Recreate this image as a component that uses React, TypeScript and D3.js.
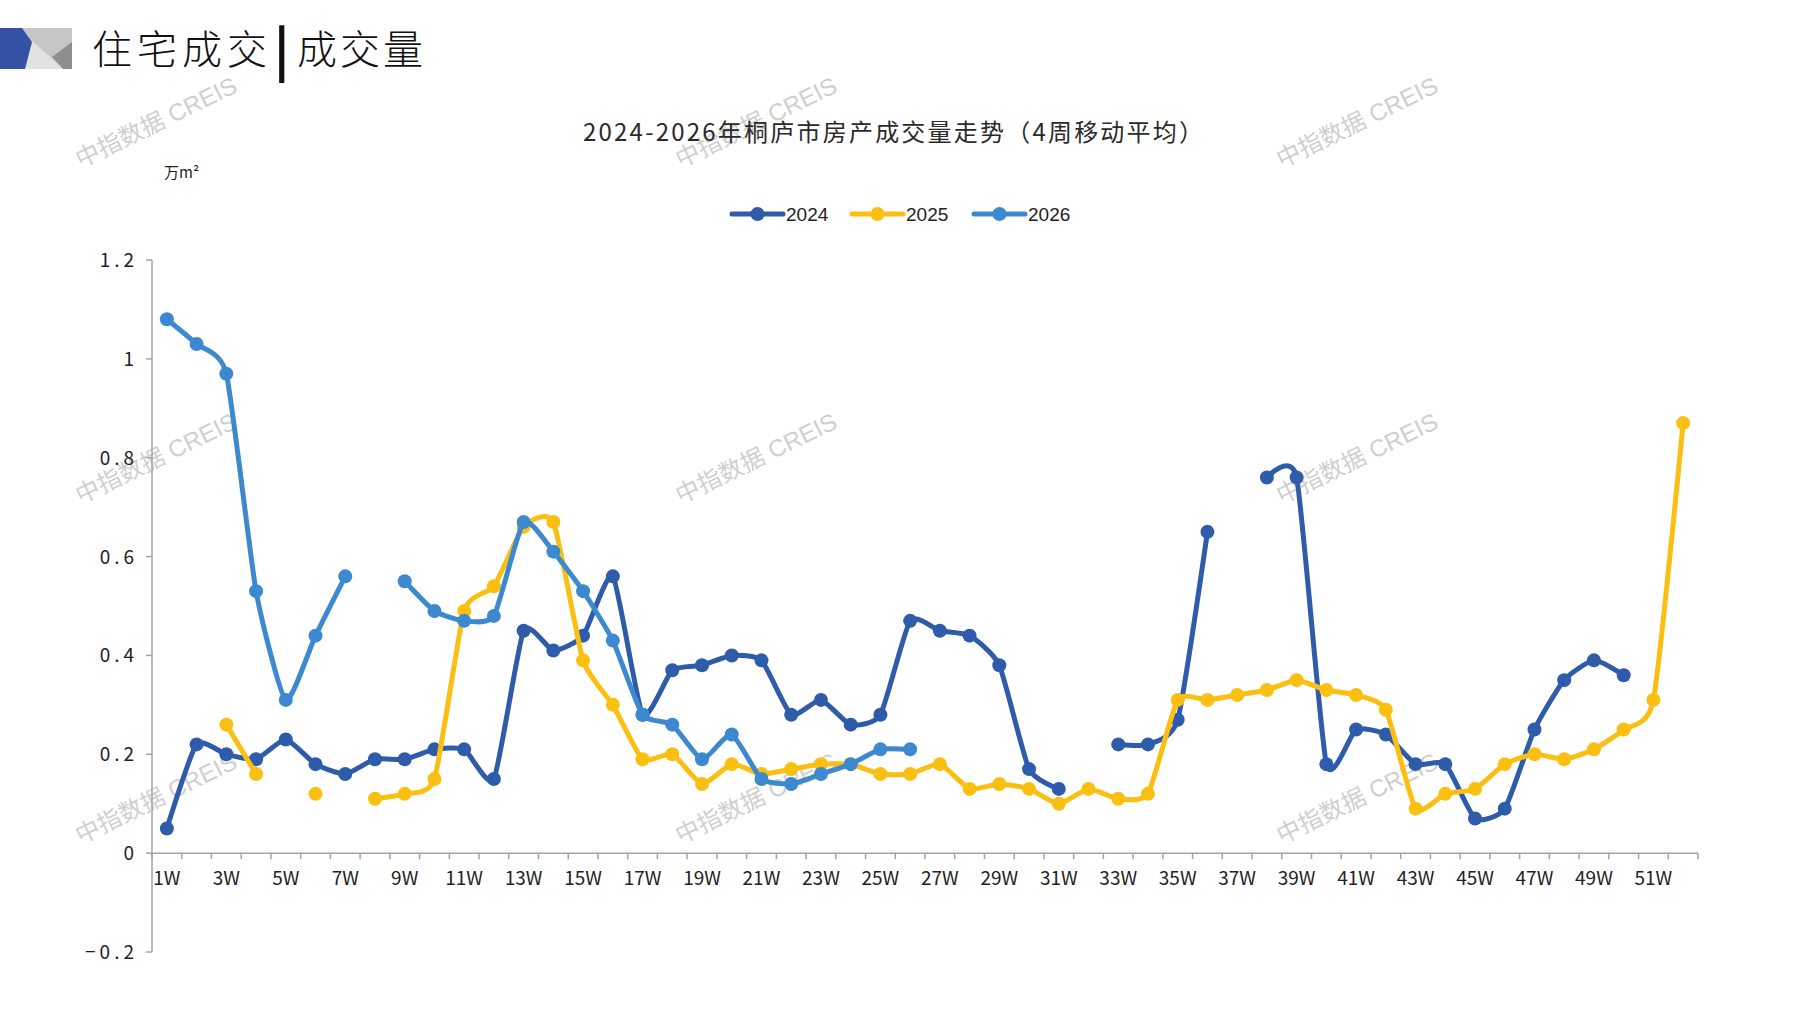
import { useEffect, useRef } from "react";
import * as d3 from "d3";

// Weekly categories (x axis)
const WEEKS = [
  "1W", "2W", "3W", "4W", "5W", "6W", "7W", "8W", "9W", "10W",
  "11W", "12W", "13W", "14W", "15W", "16W", "17W", "18W", "19W", "20W",
  "21W", "22W", "23W", "24W", "25W", "26W", "27W", "28W", "29W", "30W",
  "31W", "32W", "33W", "34W", "35W", "36W", "37W", "38W", "39W", "40W",
  "41W", "42W", "43W", "44W", "45W", "46W", "47W", "48W", "49W", "50W",
  "51W", "52W",
];

// 4-week moving average, 万m² (null = no data)
const SALES_2024 = [
  0.05, 0.22, 0.2, 0.19, 0.23, 0.18, 0.16, 0.19, 0.19, 0.21,
  0.21, 0.15, 0.45, 0.41, 0.44, 0.56, 0.28, 0.37, 0.38, 0.4,
  0.39, 0.28, 0.31, 0.26, 0.28, 0.47, 0.45, 0.44, 0.38, 0.17,
  0.13, null, 0.22, 0.22, 0.27, 0.65, null, 0.76, 0.76, 0.18,
  0.25, 0.24, 0.18, 0.18, 0.07, 0.09, 0.25, 0.35, 0.39, 0.36,
  null, null,
];
const SALES_2025 = [
  null, null, 0.26, 0.16, null, 0.12, null, 0.11, 0.12, 0.15,
  0.49, 0.54, 0.66, 0.67, 0.39, 0.3, 0.19, 0.2, 0.14, 0.18,
  0.16, 0.17, 0.18, 0.18, 0.16, 0.16, 0.18, 0.13, 0.14, 0.13,
  0.1, 0.13, 0.11, 0.12, 0.31, 0.31, 0.32, 0.33, 0.35, 0.33,
  0.32, 0.29, 0.09, 0.12, 0.13, 0.18, 0.2, 0.19, 0.21, 0.25,
  0.31, 0.87,
];
const SALES_2026 = [
  1.08, 1.03, 0.97, 0.53, 0.31, 0.44, 0.56, null, 0.55, 0.49,
  0.47, 0.48, 0.67, 0.61, 0.53, 0.43, 0.28, 0.26, 0.19, 0.24,
  0.15, 0.14, 0.16, 0.18, 0.21, 0.21,
];

const SERIES_NAMES = ["2024", "2025", "2026"];
const SERIES_COLORS = ["#2E5CAA", "#FBBF12", "#3D89D0"];
const Y_TICKS = [-0.2, 0, 0.2, 0.4, 0.6, 0.8, 1, 1.2];

const WIDTH = 1797;
const HEIGHT = 1010;
const PLOT = { left: 152, right: 1698, top: 260, bottom: 952 };
const NUM_FONT = "'Liberation Sans Narrow', 'Noto Sans CJK SC', sans-serif";
const CJK_FONT = "'Noto Sans CJK SC', sans-serif";

export default function App() {
  const svgRef = useRef<SVGSVGElement>(null);

  useEffect(() => {
    document.body.style.margin = "0";
    if (!svgRef.current) return;

    const svg = d3.select(svgRef.current);
    svg.selectAll("*").remove();

    const x = d3.scaleBand<string>().domain(WEEKS).range([PLOT.left, PLOT.right]).padding(0);
    const y = d3.scaleLinear().domain([-0.2, 1.2]).range([PLOT.bottom, PLOT.top]);
    const cx = (i: number) => (x(WEEKS[i]) ?? 0) + x.bandwidth() / 2;

    // Header block (logo + section title)
    const logo = svg.append("g");
    logo.append("rect").attr("x", 0).attr("y", 28).attr("width", 72).attr("height", 41).attr("fill", "#c6c6c6");
    logo.append("polygon").attr("points", "24,34 64,69 24,69").attr("fill", "#e2e2e2");
    logo.append("polygon").attr("points", "72,42 72,69 63,69 52,57").attr("fill", "#8e8e8e");
    logo.append("polygon").attr("points", "0,28 22,28 32,42 25,69 0,69").attr("fill", "#3452A4");

    svg.append("text")
      .attr("x", 92).attr("y", 64)
      .attr("font-family", CJK_FONT).attr("font-size", 40).attr("font-weight", 300).attr("fill", "#111")
      .attr("letter-spacing", 5)
      .text("住宅成交");
    svg.append("text")
      .attr("x", 275).attr("y", 68)
      .attr("font-family", CJK_FONT).attr("font-size", 50).attr("fill", "#111")
      .attr("stroke", "#111").attr("stroke-width", 2)
      .text("|");
    svg.append("text")
      .attr("x", 297).attr("y", 64)
      .attr("font-family", CJK_FONT).attr("font-size", 40).attr("font-weight", 300).attr("fill", "#111")
      .attr("letter-spacing", 3)
      .text("成交量");

    // Watermarks
    const wmX = [157, 757, 1358];
    const wmY = [124, 460, 800];
    wmY.forEach((wy) => {
      wmX.forEach((wx) => {
        svg.append("text")
          .attr("transform", `translate(${wx},${wy}) rotate(-26)`)
          .attr("text-anchor", "middle").attr("dominant-baseline", "middle")
          .attr("font-family", "'Liberation Sans', 'Noto Sans CJK SC', sans-serif")
          .attr("font-size", 24).attr("fill", "#cfcfcf")
          .text("中指数据 CREIS");
      });
    });

    // Chart title
    svg.append("text")
      .attr("x", 583).attr("y", 141)
      .attr("textLength", 620).attr("lengthAdjust", "spacing")
      .attr("font-family", NUM_FONT).attr("font-size", 24).attr("fill", "#2a2a2a")
      .text("2024-2026年桐庐市房产成交量走势（4周移动平均）");

    // Unit
    svg.append("text")
      .attr("x", 164).attr("y", 178)
      .attr("font-family", CJK_FONT).attr("font-size", 15).attr("fill", "#222")
      .text("万m²");

    // Legend
    const legendX = [732, 852, 974];
    SERIES_NAMES.forEach((name, i) => {
      const g = svg.append("g").attr("transform", `translate(${legendX[i]},214)`);
      g.append("line").attr("x1", 0).attr("x2", 51).attr("y1", 0).attr("y2", 0)
        .attr("stroke", SERIES_COLORS[i]).attr("stroke-width", 5).attr("stroke-linecap", "round");
      g.append("circle").attr("cx", 25.5).attr("cy", 0).attr("r", 7).attr("fill", SERIES_COLORS[i]);
      g.append("text").attr("x", 54).attr("y", 7)
        .attr("font-family", "'Liberation Sans', sans-serif").attr("font-size", 19).attr("fill", "#222")
        .text(name);
    });

    // Axes
    const axisColor = "#a3a3a3";
    svg.append("line")
      .attr("x1", PLOT.left).attr("x2", PLOT.left).attr("y1", y(1.2)).attr("y2", y(-0.2))
      .attr("stroke", axisColor).attr("stroke-width", 1.5);
    Y_TICKS.forEach((t) => {
      svg.append("line")
        .attr("x1", PLOT.left - 6).attr("x2", PLOT.left).attr("y1", y(t)).attr("y2", y(t))
        .attr("stroke", axisColor).attr("stroke-width", 1.5);
      svg.append("text")
        .attr("x", 138).attr("y", y(t) + 7)
        .attr("text-anchor", "end").attr("letter-spacing", 4)
        .attr("font-family", NUM_FONT).attr("font-size", 19).attr("fill", "#222")
        .text(t === 0 || t === 1 ? d3.format("d")(t) : d3.format(".1f")(t).replace("-", "−"));
    });

    svg.append("line")
      .attr("x1", PLOT.left).attr("x2", PLOT.right).attr("y1", y(0)).attr("y2", y(0))
      .attr("stroke", axisColor).attr("stroke-width", 1.5);
    d3.range(WEEKS.length + 1).forEach((k) => {
      const bx = PLOT.left + k * x.bandwidth();
      svg.append("line")
        .attr("x1", bx).attr("x2", bx).attr("y1", y(0)).attr("y2", y(0) + 6)
        .attr("stroke", axisColor).attr("stroke-width", 1.5);
    });
    WEEKS.forEach((w, i) => {
      if (i % 2 !== 0) return;
      svg.append("text")
        .attr("x", cx(i)).attr("y", 885)
        .attr("text-anchor", "middle")
        .attr("font-family", NUM_FONT).attr("font-size", 19).attr("fill", "#222")
        .text(w);
    });

    // Series (Excel-like smoothed lines)
    const allSeries = [SALES_2024, SALES_2025, SALES_2026];
    allSeries.forEach((values, si) => {
      const line = d3.line<number | null>()
        .defined((d) => d != null)
        .x((_, i) => cx(i))
        .y((d) => y(d as number))
        .curve(d3.curveCardinal.tension(0.45));

      svg.append("path")
        .datum(values)
        .attr("fill", "none")
        .attr("stroke", SERIES_COLORS[si])
        .attr("stroke-width", 5)
        .attr("stroke-linejoin", "round")
        .attr("stroke-linecap", "round")
        .attr("d", line);

      svg.append("g")
        .selectAll("circle")
        .data(values.map((v, i) => ({ v, i })).filter((d) => d.v != null))
        .join("circle")
        .attr("cx", (d) => cx(d.i))
        .attr("cy", (d) => y(d.v as number))
        .attr("r", 7)
        .attr("fill", SERIES_COLORS[si]);
    });
  }, []);

  return (
    <svg
      ref={svgRef}
      width={WIDTH}
      height={HEIGHT}
      style={{ display: "block", background: "#fff" }}
    />
  );
}
